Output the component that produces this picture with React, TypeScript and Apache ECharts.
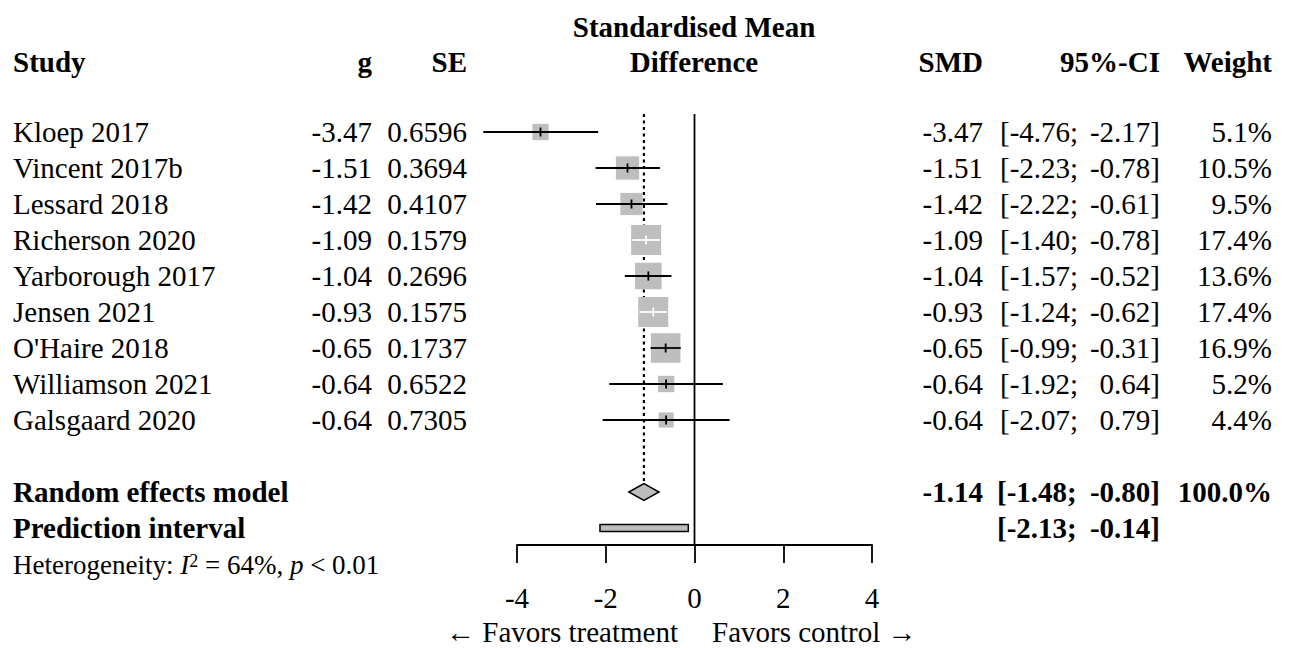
import React, { useEffect, useRef } from "react";
import * as echarts from "echarts";

// ---- data ----
const studies = [
  "Kloep 2017",
  "Vincent 2017b",
  "Lessard 2018",
  "Richerson 2020",
  "Yarborough 2017",
  "Jensen 2021",
  "O'Haire 2018",
  "Williamson 2021",
  "Galsgaard 2020",
];
const gValues = [-3.47, -1.51, -1.42, -1.09, -1.04, -0.93, -0.65, -0.64, -0.64];
const seValues = ["0.6596", "0.3694", "0.4107", "0.1579", "0.2696", "0.1575", "0.1737", "0.6522", "0.7305"];
const ciLow = [-4.76, -2.23, -2.22, -1.4, -1.57, -1.24, -0.99, -1.92, -2.07];
const ciHigh = [-2.17, -0.78, -0.61, -0.78, -0.52, -0.62, -0.31, 0.64, 0.79];
const weights = [5.1, 10.5, 9.5, 17.4, 13.6, 17.4, 16.9, 5.2, 4.4];

const pooledSmd = -1.14;
const pooledLow = -1.48;
const pooledHigh = -0.8;
const pooledWeight = "100.0%";
const predLow = -2.13;
const predHigh = -0.14;

const xTicks = [-4, -2, 0, 2, 4];
const pooledRow = 10;
const predRow = 11;

const FONT = '"Liberation Serif", "Times New Roman", serif';
const FS = 29;

const fmt = (v: number) => v.toFixed(2);

export default function App() {
  const ref = useRef<HTMLDivElement>(null);
  useEffect(() => {
    if (!ref.current) return;
    const chart = echarts.init(ref.current, null, { renderer: "svg" });

    const studyData = studies.map((s, i) => [gValues[i], i, ciLow[i], ciHigh[i], weights[i]]);

    const txt = (x: number, y: number, text: string, align: string, bold = false, size = FS) => ({
      type: "text",
      x,
      y,
      style: {
        text,
        fill: "#000",
        fontFamily: FONT,
        fontSize: size,
        fontWeight: bold ? "bold" : "normal",
        align,
        verticalAlign: "middle",
        lineHeight: size,
      },
    });

    const option: any = {
      animation: false,
      backgroundColor: "#fff",
      grid: { left: 517, width: 355, top: 114, height: 431 },
      xAxis: {
        type: "value",
        min: xTicks[0],
        max: xTicks[xTicks.length - 1],
        interval: 2,
        splitLine: { show: false },
        axisLine: { show: true, onZero: false, lineStyle: { color: "#000", width: 1.8 } },
        axisTick: { show: true, length: 18, lineStyle: { color: "#000", width: 1.8 } },
        axisLabel: {
          color: "#000",
          fontFamily: FONT,
          fontSize: FS,
          margin: 38,
          formatter: (v: number) => String(v),
        },
      },
      yAxis: {
        type: "value",
        inverse: true,
        min: -0.5,
        max: 11.4722,
        show: false,
      },
      series: [
        {
          type: "custom",
          name: "lines",
          data: [[0]],
          renderItem: (params: any, api: any) => {
            const top = api.coord([0, -0.5]);
            const bot = api.coord([0, 11.4722]);
            const pTop = api.coord([pooledSmd, -0.5]);
            const pBot = api.coord([pooledSmd, pooledRow]);
            return {
              type: "group",
              children: [
                {
                  type: "line",
                  shape: { x1: top[0], y1: top[1], x2: bot[0], y2: bot[1] },
                  style: { stroke: "#000", lineWidth: 1.8 },
                },
                {
                  type: "line",
                  shape: { x1: pTop[0], y1: pTop[1], x2: pBot[0], y2: pBot[1] - 10 },
                  style: { stroke: "#000", lineWidth: 2.2, lineDash: [3, 3.5] },
                },
              ],
            };
          },
        },
        {
          type: "custom",
          name: "studies",
          data: studyData,
          renderItem: (params: any, api: any) => {
            const est = api.value(0);
            const row = api.value(1);
            const lo = api.value(2);
            const hi = api.value(3);
            const w = api.value(4);
            const c = api.coord([est, row]);
            const l = api.coord([lo, row]);
            const h = api.coord([hi, row]);
            const side = 7.2 * Math.sqrt(w);
            const inside = h[0] - l[0] < side;
            const col = inside ? "#fff" : "#000";
            return {
              type: "group",
              children: [
                {
                  type: "rect",
                  shape: { x: c[0] - side / 2, y: c[1] - side / 2, width: side, height: side },
                  style: { fill: "#bebebe" },
                },
                {
                  type: "line",
                  shape: { x1: l[0], y1: c[1], x2: h[0], y2: c[1] },
                  style: { stroke: col, lineWidth: 1.8 },
                },
                {
                  type: "line",
                  shape: { x1: c[0], y1: c[1] - 4.5, x2: c[0], y2: c[1] + 4.5 },
                  style: { stroke: col, lineWidth: 1.8 },
                },
              ],
            };
          },
        },
        {
          type: "custom",
          name: "pooled",
          data: [[pooledSmd, pooledRow, pooledLow, pooledHigh]],
          renderItem: (params: any, api: any) => {
            const c = api.coord([api.value(0), api.value(1)]);
            const l = api.coord([api.value(2), api.value(1)]);
            const h = api.coord([api.value(3), api.value(1)]);
            return {
              type: "polygon",
              shape: {
                points: [
                  [l[0], c[1]],
                  [c[0], c[1] - 8.5],
                  [h[0], c[1]],
                  [c[0], c[1] + 8.5],
                ],
              },
              style: { fill: "#bebebe", stroke: "#000", lineWidth: 1.5 },
            };
          },
        },
        {
          type: "custom",
          name: "prediction",
          data: [[predLow, predHigh, predRow]],
          renderItem: (params: any, api: any) => {
            const l = api.coord([api.value(0), api.value(2)]);
            const h = api.coord([api.value(1), api.value(2)]);
            return {
              type: "rect",
              shape: { x: l[0], y: l[1] - 3.5, width: h[0] - l[0], height: 7 },
              style: { fill: "#bebebe", stroke: "#000", lineWidth: 1.5 },
            };
          },
        },
        {
          type: "custom",
          name: "table",
          data: studies.map((s, i) => [i]),
          renderItem: (params: any, api: any) => {
            const i = params.dataIndex;
            const y = api.coord([0, i])[1];
            return {
              type: "group",
              children: [
                txt(13, y, studies[i], "left"),
                txt(372, y, fmt(gValues[i]), "right"),
                txt(467, y, seValues[i], "right"),
                txt(983, y, fmt(gValues[i]), "right"),
                txt(1000, y, "[" + fmt(ciLow[i]) + ";", "left"),
                txt(1160, y, fmt(ciHigh[i]) + "]", "right"),
                txt(1272, y, weights[i].toFixed(1) + "%", "right"),
              ],
            };
          },
        },
        {
          type: "custom",
          name: "summaryTable",
          data: [[pooledRow]],
          renderItem: (params: any, api: any) => {
            const y1 = api.coord([0, pooledRow])[1];
            const y2 = api.coord([0, predRow])[1];
            return {
              type: "group",
              children: [
                txt(13, y1, "Random effects model", "left", true),
                txt(983, y1, fmt(pooledSmd), "right", true),
                txt(997, y1, "[" + fmt(pooledLow) + ";", "left", true),
                txt(1160, y1, fmt(pooledHigh) + "]", "right", true),
                txt(1272, y1, pooledWeight, "right", true),
                txt(13, y2, "Prediction interval", "left", true),
                txt(997, y2, "[" + fmt(predLow) + ";", "left", true),
                txt(1160, y2, fmt(predHigh) + "]", "right", true),
              ],
            };
          },
        },
      ],
      graphic: [
        txt(694, 27, "Standardised Mean", "center", true),
        txt(694, 62, "Difference", "center", true),
        txt(13, 62, "Study", "left", true),
        txt(372, 62, "g", "right", true),
        txt(467, 62, "SE", "right", true),
        txt(983, 62, "SMD", "right", true),
        txt(1160, 62, "95%-CI", "right", true),
        txt(1272, 62, "Weight", "right", true),
        txt(678, 632, "\u2190 Favors treatment", "right"),
        txt(712, 632, "Favors control \u2192", "left"),
        {
          type: "text",
          x: 13,
          y: 565,
          style: {
            text: "Heterogeneity: {it|I}{sup|2} = 64%, {it|p} < 0.01",
            fill: "#000",
            fontFamily: FONT,
            fontSize: 27,
            align: "left",
            verticalAlign: "middle",
            rich: {
              it: { fontFamily: FONT, fontSize: 27, fontStyle: "italic", fill: "#000" },
              sup: { fontFamily: FONT, fontSize: 18, fill: "#000", verticalAlign: "top" },
            },
          },
        },
      ],
    };
    chart.setOption(option);
    return () => chart.dispose();
  }, []);
  return (
    <div
      ref={ref}
      style={{ position: "fixed", left: 0, top: 0, width: 1294, height: 648, background: "#fff" }}
    />
  );
}
